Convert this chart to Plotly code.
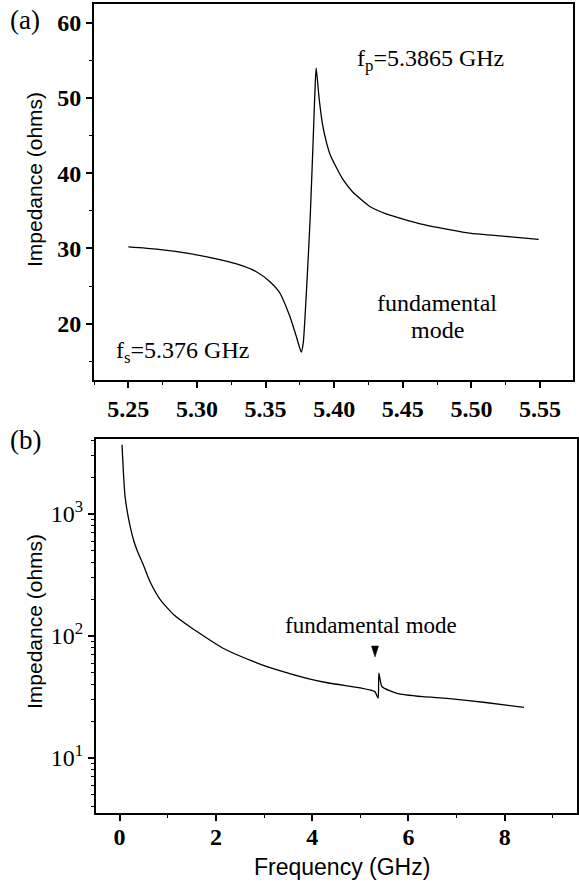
import plotly.graph_objects as go

W, H = 579, 885

# ---- data: panel (a) fundamental-mode resonance ----
freq_a = [5.250, 5.2706, 5.2948, 5.319, 5.3312, 5.3433, 5.353, 5.3603, 5.3676,
          5.3724, 5.3760, 5.3775, 5.3800, 5.3825, 5.3850, 5.3862, 5.3869, 5.3890,
          5.3915, 5.3945, 5.3970, 5.4015, 5.4070, 5.4135, 5.4257, 5.4378, 5.462,
          5.4838, 5.500, 5.525, 5.549]
imp_a = [30.2, 29.9, 29.3, 28.4, 27.8, 26.9, 25.6, 24.1, 21.0,
         18.3, 16.2, 17.5, 25.0, 34.0, 46.0, 52.0, 54.0, 50.0,
         46.5, 44.0, 42.5, 40.8, 39.0, 37.5, 35.6, 34.6, 33.3,
         32.5, 32.0, 31.6, 31.2]

# ---- data: panel (b) broadband ----
freq_b = [0.05, 0.08, 0.114, 0.18, 0.29, 0.36, 0.49, 0.63, 0.84, 1.12, 1.46,
          2.16, 2.86, 3.19, 3.89, 4.37, 5.00, 5.30, 5.37, 5.385, 5.45, 5.76,
          6.30, 6.80, 7.60, 8.40]
imp_b = [3700, 2170, 1387, 945, 612, 507, 385, 280, 200, 150, 119,
         79, 60, 54, 45, 41, 37.5, 35, 31, 49.5, 38.4, 33.9,
         31.8, 30.8, 28.5, 26]

xticks_a = [5.25, 5.30, 5.35, 5.40, 5.45, 5.50, 5.55]
yticks_a = [20, 30, 40, 50, 60]
xticks_b = [0, 2, 4, 6, 8]
yticks_b = [10, 100, 1000]
yticktext_b = ["10<sup>1</sup>", "10<sup>2</sup>", "10<sup>3</sup>"]
yminor_b = [4, 5, 6, 7, 8, 9, 20, 30, 40, 50, 60, 70, 80, 90,
            200, 300, 400, 500, 600, 700, 800, 900, 2000, 3000, 4000]


def px(x):
    return x / W


def py(y):
    return 1 - y / H


SERIF = "Liberation Serif"
SANS = "Liberation Sans"

fig = go.Figure()
fig.add_trace(go.Scatter(x=freq_a, y=imp_a, mode="lines",
                         line=dict(color="black", width=1.3, shape="spline",
                                   smoothing=0.5),
                         xaxis="x", yaxis="y", showlegend=False))
fig.add_trace(go.Scatter(x=freq_b, y=imp_b, mode="lines",
                         line=dict(color="black", width=1.3, shape="spline",
                                   smoothing=0.5),
                         xaxis="x2", yaxis="y2", showlegend=False))

common = dict(showline=True, linecolor="black", linewidth=2, mirror=True,
              ticks="outside", ticklen=6, tickwidth=1.5, tickcolor="black",
              showgrid=False, zeroline=False, automargin=False)

fig.update_layout(
    width=W, height=H,
    margin=dict(l=0, r=0, t=0, b=0),
    paper_bgcolor="white", plot_bgcolor="white",
    xaxis=dict(domain=[px(94), px(573)], range=[5.225, 5.574], anchor="y",
               tickvals=xticks_a, tickformat=".2f",
               tickfont=dict(family=SERIF, size=24, color="black", weight="bold"),
               minor=dict(ticks="outside", ticklen=3, tickwidth=1.2,
                          tickcolor="black", dtick=0.025, tick0=5.25),
               **common),
    yaxis=dict(domain=[py(380), py(4)], range=[12.5, 62.5], anchor="x",
               tickvals=yticks_a,
               tickfont=dict(family=SERIF, size=24, color="black", weight="bold"),
               minor=dict(ticks="outside", ticklen=3, tickwidth=1.2,
                          tickcolor="black", dtick=5, tick0=0),
               **common),
    xaxis2=dict(domain=[px(96), px(577)], range=[-0.49, 9.5], anchor="y2",
                tickvals=xticks_b, ticklabelstandoff=-5,
                tickfont=dict(family=SERIF, size=24, color="black", weight="bold"),
                minor=dict(ticks="outside", ticklen=3, tickwidth=1.2,
                           tickcolor="black", dtick=1, tick0=0),
                **common),
    yaxis2=dict(domain=[py(813), py(439)], type="log", range=[0.549, 3.615],
                anchor="x2", tickvals=yticks_b, ticktext=yticktext_b,
                tickfont=dict(family=SERIF, size=24, color="black"),
                minor=dict(ticks="outside", ticklen=3, tickwidth=1.2,
                           tickcolor="black", tickvals=yminor_b),
                **common),
)

ann = []


def add_text(text, x, y, size, family=SERIF, angle=0, xanchor="center"):
    ann.append(dict(text=text, x=px(x), y=py(y), xref="paper", yref="paper",
                    showarrow=False, xanchor=xanchor, yanchor="middle",
                    textangle=angle,
                    font=dict(family=family, size=size, color="black")))


add_text("(a)", 25, 20, 27)
add_text("(b)", 25, 440, 27)
add_text("f<sub>p</sub>=5.3865 GHz", 430, 60, 24)
add_text("fundamental", 437, 303, 24)
add_text("mode", 437, 330, 24)
add_text("f<sub>s</sub>=5.376 GHz", 182, 352, 24)
add_text("fundamental mode", 371, 625, 23)
add_text("Impedance (ohms)", 34, 180, 21, family=SANS, angle=-90)
add_text("Impedance (ohms)", 34, 622, 21, family=SANS, angle=-90)
add_text("Frequency (GHz)", 342, 867, 23, family=SANS)

fig.update_layout(annotations=ann)

# small down-pointing triangle marker above the resonance
tx, ty = 375, 652
fig.add_shape(type="path", xref="paper", yref="paper",
              path=f"M {px(tx-3.5)} {py(ty-6)} L {px(tx+3.5)} {py(ty-6)} L {px(tx)} {py(ty+5)} Z",
              fillcolor="black", line=dict(color="black", width=0.5))

fig.write_html("out.html")
